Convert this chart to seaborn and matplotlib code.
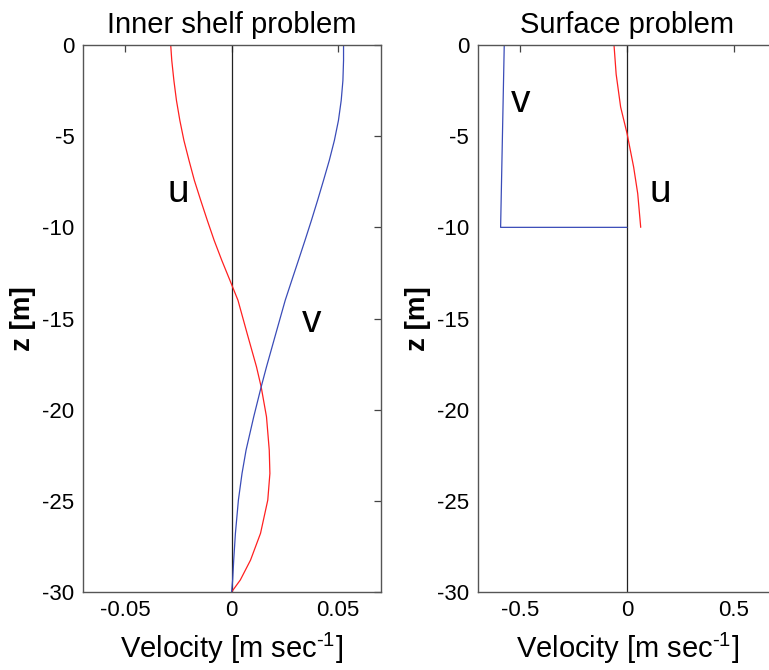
import numpy as np
import pandas as pd
import matplotlib
matplotlib.use("Agg")
import matplotlib.pyplot as plt
import seaborn as sns

# Inner shelf problem: velocity profiles over the full 30 m column
z_inner = [0, -0.85, -1.95, -3.04, -4.14, -5.23, -6.33, -7.42, -8.52, -9.62, -10.71,
           -11.81, -12.90, -14.0, -15.82, -17.65, -18.75, -20.39, -22.22, -23.5,
           -24.96, -26.78, -28.25, -29.34, -30]
u_inner = [-0.0286, -0.0281, -0.0271, -0.0259, -0.0243, -0.0224, -0.0200, -0.0175,
           -0.0145, -0.0114, -0.0082, -0.0046, -0.0008, 0.0030, 0.0073, 0.0117, 0.0139,
           0.0164, 0.0177, 0.0180, 0.0170, 0.0136, 0.0089, 0.0041, 0.0]
v_inner = [0.0526, 0.0526, 0.0523, 0.0515, 0.0502, 0.0483, 0.0459, 0.0432, 0.0404,
           0.0375, 0.0345, 0.0314, 0.0283, 0.0252, 0.0208, 0.0164, 0.0139, 0.0104,
           0.0068, 0.0049, 0.0032, 0.0018, 0.0010, 0.0005, 0.0]

# Surface problem: profiles within the upper 10 m layer
z_surf = [0, -1.6, -3.4, -4.85, -6.7, -8.15, -10]
u_surf = [-0.061, -0.051, -0.030, 0.0, 0.031, 0.050, 0.064]
v_surf_z = [0, -10, -10]
v_surf = [-0.575, -0.592, 0.0]

panel_titles = ["Inner shelf problem", "Surface problem"]
xlims = [(-0.07, 0.07), (-0.7, 0.7)]
xticks = [[-0.05, 0, 0.05], [-0.5, 0, 0.5]]
xticklabels = [["-0.05", "0", "0.05"], ["-0.5", "0", "0.5"]]
yticks = [0, -5, -10, -15, -20, -25, -30]

sns.set_theme(style="white")
plt.rcParams["font.family"] = ["Liberation Sans", "DejaVu Sans"]
plt.rcParams["mathtext.fontset"] = "custom"
plt.rcParams["mathtext.rm"] = "Liberation Sans"
plt.rcParams["text.color"] = "black"
plt.rcParams["axes.labelcolor"] = "black"

fig = plt.figure(figsize=(7.69, 6.70), dpi=100)
ax1 = fig.add_axes([0.1074, 0.1164, 0.3875, 0.8164])
ax2 = fig.add_axes([0.6210, 0.1164, 0.3888, 0.8164])

red = "#ff2020"
blue = "#3a4cb8"

df_u1 = pd.DataFrame({"vel": u_inner, "z": z_inner})
df_v1 = pd.DataFrame({"vel": v_inner, "z": z_inner})
df_u2 = pd.DataFrame({"vel": u_surf, "z": z_surf})
df_v2 = pd.DataFrame({"vel": v_surf, "z": v_surf_z})

for ax in (ax1, ax2):
    ax.axvline(0, color="#222222", lw=0.9, zorder=1)

sns.lineplot(data=df_u1, x="vel", y="z", sort=False, estimator=None, color=red, lw=0.9, ax=ax1)
sns.lineplot(data=df_v1, x="vel", y="z", sort=False, estimator=None, color=blue, lw=0.9, ax=ax1)
sns.lineplot(data=df_u2, x="vel", y="z", sort=False, estimator=None, color=red, lw=0.9, ax=ax2)
sns.lineplot(data=df_v2, x="vel", y="z", sort=False, estimator=None, color=blue, lw=0.9, ax=ax2)

ax1.text(-0.0251, -8.06, "u", fontsize=28, ha="center", va="center")
ax1.text(0.0374, -15.2, "v", fontsize=28, ha="center", va="center")
ax2.text(-0.498, -3.13, "v", fontsize=28, ha="center", va="center")
ax2.text(0.156, -8.06, "u", fontsize=28, ha="center", va="center")

for i, ax in enumerate((ax1, ax2)):
    ax.set_xlim(*xlims[i])
    ax.set_ylim(-30, 0)
    ax.set_xticks(xticks[i])
    ax.set_xticklabels(xticklabels[i])
    ax.set_yticks(yticks)
    ax.set_yticklabels([str(t) for t in yticks])
    ax.tick_params(direction="in", length=5, width=0.9, color="#444444",
                   top=True, right=True, labelsize=16, pad=6, labelcolor="black")
    for sp in ax.spines.values():
        sp.set_color("#555555")
        sp.set_linewidth(1.0)
    ax.set_title(panel_titles[i], fontsize=21, pad=9, color="black")
    ax.set_xlabel(r"Velocity [m sec$^{\text{-1}}$]", fontsize=21, labelpad=7)
    ax.set_ylabel("z [m]", fontsize=20, fontweight="bold", labelpad=4)
    ax.grid(False)

fig.savefig("out.png", dpi=100)
